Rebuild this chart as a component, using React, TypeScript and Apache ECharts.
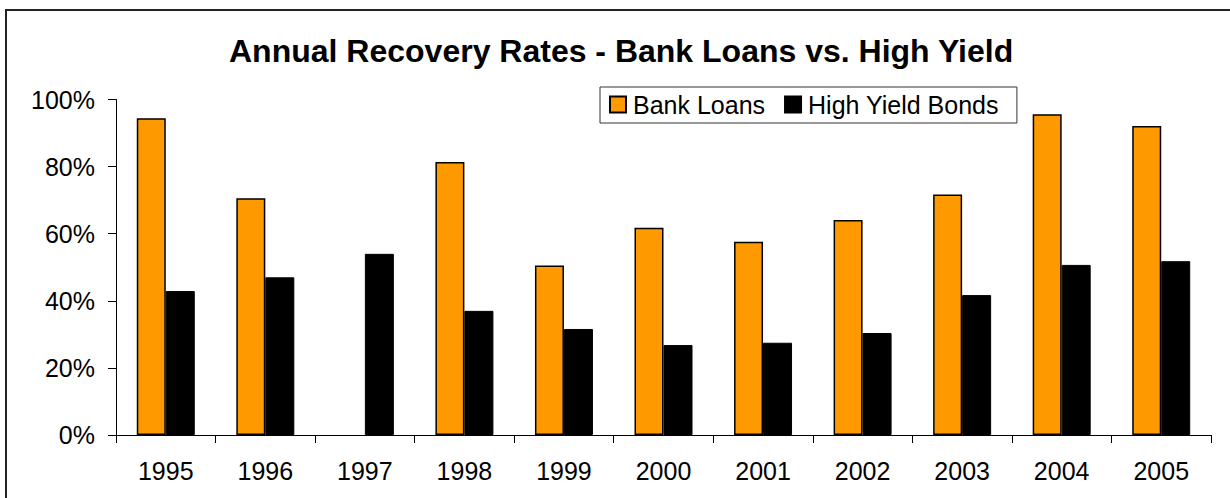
import React, { useEffect, useRef } from "react";
import * as echarts from "echarts";

const years = ["1995", "1996", "1997", "1998", "1999", "2000", "2001", "2002", "2003", "2004", "2005"];
const bankLoans: (number | null)[] = [94.4, 70.6, null, 81.4, 50.5, 61.8, 57.6, 64.1, 71.7, 95.6, 92.1];
const highYield = [42.9, 47.0, 54.0, 37.0, 31.6, 26.8, 27.5, 30.4, 41.7, 50.7, 51.8];
const yTicks = [0, 20, 40, 60, 80, 100];

const FONT = "'Liberation Sans', Arial, sans-serif";

export default function App() {
  const ref = useRef<HTMLDivElement>(null);
  useEffect(() => {
    if (!ref.current) return;
    const chart = echarts.init(ref.current, null, { renderer: "svg" });
    chart.setOption({
      animation: false,
      backgroundColor: "#fff",
      textStyle: { fontFamily: FONT },
      title: {
        text: "Annual Recovery Rates - Bank Loans vs. High Yield",
        left: 224,
        top: 30,
        textStyle: { fontFamily: FONT, fontSize: 32, fontWeight: "bold", color: "#000" },
      },
      graphic: [
        {
          type: "rect",
          shape: { x: 6, y: 10, width: 1240, height: 520 },
          style: { fill: "none", stroke: "#222", lineWidth: 2 },
          silent: true,
        },
      ],
      legend: {
        left: 600,
        top: 87,
        padding: [5, 18, 6, 9],
        borderColor: "#333",
        borderWidth: 1,
        itemWidth: 16,
        itemHeight: 16,
        itemGap: 19,
        icon: "rect",
        textStyle: { fontFamily: FONT, fontSize: 25, color: "#000", padding: [0, 0, 0, 2] },
        data: ["Bank Loans", "High Yield Bonds"],
      },
      grid: { left: 116, right: 19, top: 99.5, bottom: 63, containLabel: false },
      xAxis: {
        type: "category",
        data: years,
        axisLine: { lineStyle: { color: "#000", width: 1 } },
        axisTick: { show: true, length: 8, lineStyle: { color: "#000" } },
        axisLabel: { margin: 23, fontFamily: FONT, fontSize: 25, color: "#000" },
      },
      yAxis: {
        type: "value",
        min: yTicks[0],
        max: yTicks[yTicks.length - 1],
        interval: 20,
        axisLine: { show: true, lineStyle: { color: "#000", width: 1 } },
        axisTick: { show: true, length: 8, lineStyle: { color: "#000" } },
        splitLine: { show: false },
        axisLabel: { margin: 21, fontFamily: FONT, fontSize: 25, color: "#000", formatter: "{value}%" },
      },
      series: [
        {
          name: "Bank Loans",
          type: "bar",
          data: bankLoans,
          barWidth: 29,
          barGap: "0%",
          itemStyle: { color: "#FF9900", borderColor: "#000", borderWidth: 1.5 },
        },
        {
          name: "High Yield Bonds",
          type: "bar",
          data: highYield,
          barWidth: 29,
          barGap: "0%",
          itemStyle: { color: "#000", borderColor: "#000", borderWidth: 1 },
        },
      ],
    });
    return () => chart.dispose();
  }, []);
  return (
    <div
      ref={ref}
      style={{ position: "fixed", left: 0, top: 0, width: 1230, height: 498 }}
    />
  );
}
